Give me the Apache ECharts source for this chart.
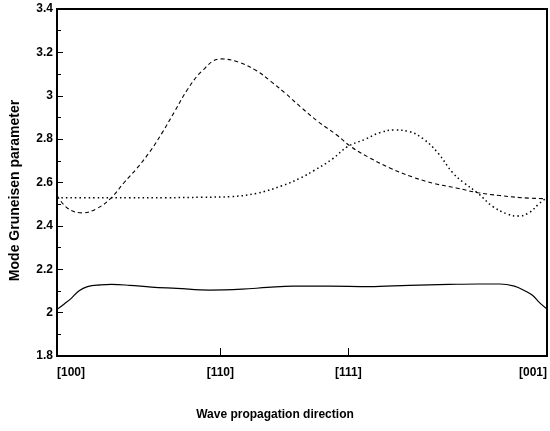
<!DOCTYPE html>
<html>
<head>
<meta charset="utf-8">
<script src="https://cdn.jsdelivr.net/npm/echarts@6/dist/echarts.min.js"></script>
<style>
  html, body { margin: 0; padding: 0; background: #fff; }
  #chart { width: 550px; height: 431px; }
</style>
</head>
<body>
<div id="chart"></div>
<script>
// angle along the path [100] -> [110] -> [111] -> [001], degrees
const xTickPositions = [0, 45, 80.26, 135];
const xTickLabels = ["[100]", "[110]", "[111]", "[001]"];

const dashedX = [0, 3, 7, 11, 15, 18.5, 22, 25.5, 29, 32.5, 36, 40, 45, 50, 55, 59, 63, 67, 72, 77, 81, 86, 92, 98, 104, 110, 116, 122, 128, 135];
const dashedY = [2.54, 2.48, 2.46, 2.48, 2.53, 2.60, 2.665, 2.74, 2.83, 2.93, 3.03, 3.115, 3.17, 3.155, 3.115, 3.065, 3.01, 2.95, 2.88, 2.82, 2.765, 2.715, 2.665, 2.625, 2.595, 2.575, 2.553, 2.54, 2.53, 2.525];

const dottedX = [0, 10, 20, 30, 40, 48, 55, 62, 67, 71, 76, 80, 85, 89, 93, 97, 101, 105, 109, 112, 116, 120, 124, 127, 130, 133, 135];
const dottedY = [2.53, 2.53, 2.53, 2.53, 2.532, 2.535, 2.55, 2.585, 2.62, 2.657, 2.71, 2.765, 2.80, 2.83, 2.842, 2.835, 2.80, 2.735, 2.645, 2.60, 2.55, 2.49, 2.455, 2.445, 2.46, 2.505, 2.53];

const solidX = [0, 2, 4, 6, 8.4, 12, 15, 20, 26, 33, 42, 51, 58, 65, 75, 86, 97, 108, 116, 122, 126, 129, 131, 133, 135];
const solidY = [2.015, 2.04, 2.067, 2.10, 2.12, 2.128, 2.13, 2.126, 2.118, 2.112, 2.104, 2.108, 2.116, 2.122, 2.122, 2.12, 2.126, 2.13, 2.132, 2.132, 2.122, 2.10, 2.08, 2.045, 2.017];

const pairs = (xs, ys) => xs.map((x, i) => [x, ys[i]]);

const chart = echarts.init(document.getElementById("chart"), null, { renderer: "canvas" });

const font = "Liberation Sans, Arial, sans-serif";

const option = {
  animation: false,
  title: {
    text: "Wave propagation direction",
    left: "center",
    top: 404,
    textStyle: { fontFamily: font, fontSize: 12, fontWeight: "bold", color: "#000" },
  },
  grid: {
    left: 52,
    right: 2,
    top: 9,
    bottom: 75,
    show: true,
    borderColor: "#000",
    borderWidth: 2,
  },
  xAxis: {
    type: "value",
    min: 0,
    max: 135,
    splitLine: { show: false },
    axisLine: { show: true, lineStyle: { color: "#000", width: 2 } },
    axisTick: {
      show: true,
      inside: true,
      length: 8,
      customValues: [45, 80.26],
      lineStyle: { color: "#000", width: 1 },
    },
    axisLabel: {
      customValues: xTickPositions,
      formatter: (v) => {
        const i = xTickPositions.findIndex((p) => Math.abs(p - v) < 0.01);
        return i >= 0 ? xTickLabels[i] : "";
      },
      alignMinLabel: "left",
      alignMaxLabel: "right",
      margin: 11,
      fontFamily: font,
      fontSize: 12,
      fontWeight: "bold",
      color: "#000",
    },
  },
  yAxis: {
    type: "value",
    min: 1.8,
    max: 3.4,
    interval: 0.2,
    name: "Mode Gruneisen parameter",
    nameLocation: "middle",
    nameGap: 35,
    nameTextStyle: {
      fontFamily: font,
      fontSize: 14,
      fontWeight: "bold",
      color: "#000",
      padding: [0, 16, 0, 0],
    },
    splitLine: { show: false },
    axisLine: { show: true, lineStyle: { color: "#000", width: 2 } },
    axisTick: { show: true, inside: true, length: 6, lineStyle: { color: "#000", width: 1 } },
    minorTick: { show: true, splitNumber: 2, length: 4, lineStyle: { color: "#000", width: 1 } },
    axisLabel: {
      margin: 4,
      fontFamily: font,
      fontSize: 12,
      fontWeight: "bold",
      color: "#000",
    },
  },
  series: [
    {
      type: "line",
      data: pairs(dashedX, dashedY),
      smooth: 0.4,
      showSymbol: false,
      lineStyle: { color: "#000", width: 1.1, type: [4, 3] },
    },
    {
      type: "line",
      data: pairs(dottedX, dottedY),
      smooth: 0.4,
      showSymbol: false,
      lineStyle: { color: "#000", width: 1.5, type: [1.5, 3] },
    },
    {
      type: "line",
      data: pairs(solidX, solidY),
      smooth: 0.4,
      showSymbol: false,
      lineStyle: { color: "#000", width: 1.2 },
    },
  ],
};

chart.setOption(option);
</script>
</body>
</html>
